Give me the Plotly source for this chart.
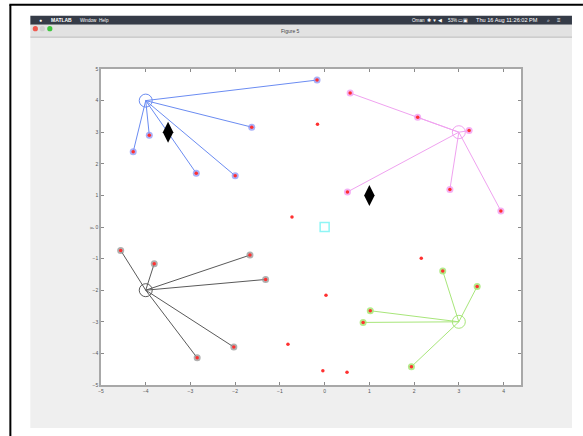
import plotly.graph_objects as go

# ---- data ----
blue_center = (-4.0, 4.0)
blue_x = [-0.17, -4.28, -3.92, -2.87, -2.00, -1.63]
blue_y = [4.65, 2.38, 2.90, 1.70, 1.62, 3.16]

mag_center = (3.0, 3.0)
mag_x = [0.57, 2.08, 3.23, 0.51, 2.80, 3.94]
mag_y = [4.24, 3.47, 3.05, 1.11, 1.19, 0.51]

blk_center = (-4.0, -2.0)
blk_x = [-4.56, -3.81, -1.67, -1.32, -2.03, -2.85]
blk_y = [-0.74, -1.16, -0.89, -1.66, -3.80, -4.14]

grn_center = (3.0, -3.0)
grn_x = [2.64, 3.41, 1.02, 0.86, 1.94]
grn_y = [-1.39, -1.88, -2.65, -3.02, -4.42]

free_x = [-0.16, -0.73, 2.16, 0.03, -0.82, -0.04, 0.50]
free_y = [3.25, 0.32, -0.99, -2.16, -3.71, -4.55, -4.60]

diamond_x = [-3.5, 1.0]
diamond_y = [3.0, 1.0]

origin_x = [0.0]
origin_y = [0.0]

x_ticks = [-5, -4, -3, -2, -1, 0, 1, 2, 3, 4]
y_ticks = [-5, -4, -3, -2, -1, 0, 1, 2, 3, 4, 5]

# ---- page geometry (pixels) ----
W, H = 583, 436
L, R, T, B = 100.7, 521.0, 69.3, 385.0


def px(x):
    return (x - L) / (R - L)


def py(y):
    return (B - y) / (B - T)


fig = go.Figure()

clusters = [
    (blue_center, blue_x, blue_y, "#6b8cf2", "rgba(140,150,245,0.75)"),
    (mag_center, mag_x, mag_y, "#f0a2f0", "rgba(240,150,240,0.75)"),
    (blk_center, blk_x, blk_y, "#5a5a5a", "rgba(150,150,150,0.75)"),
    (grn_center, grn_x, grn_y, "#a8e67a", "rgba(160,230,110,0.8)"),
]

for (cx, cy), xs, ys, line_col, halo in clusters:
    lx, ly = [], []
    for x, y in zip(xs, ys):
        lx += [cx, x, None]
        ly += [cy, y, None]
    fig.add_trace(go.Scatter(x=lx, y=ly, mode="lines",
                             line=dict(color=line_col, width=1),
                             hoverinfo="skip", showlegend=False))
    fig.add_trace(go.Scatter(x=xs, y=ys, mode="markers",
                             marker=dict(symbol="circle", size=7, color=halo,
                                         line=dict(width=0)),
                             showlegend=False))
    fig.add_trace(go.Scatter(x=[cx], y=[cy], mode="markers",
                             marker=dict(symbol="circle-open", size=13,
                                         color=line_col, line=dict(width=1)),
                             showlegend=False))

all_x = blue_x + mag_x + blk_x + grn_x + free_x
all_y = blue_y + mag_y + blk_y + grn_y + free_y
fig.add_trace(go.Scatter(x=all_x, y=all_y, mode="markers",
                         marker=dict(symbol="circle", size=3.5, color="#ff3030"),
                         showlegend=False))

fig.add_trace(go.Scatter(x=diamond_x, y=diamond_y, mode="markers",
                         marker=dict(symbol="diamond-tall", size=15, color="black"),
                         showlegend=False))

fig.add_trace(go.Scatter(x=origin_x, y=origin_y, mode="markers",
                         marker=dict(symbol="square-open", size=9, color="#8ff5f5",
                                     line=dict(width=1.5)),
                         showlegend=False))

shapes = []
# figure window background
shapes.append(dict(type="rect", xref="paper", yref="paper",
                   x0=px(30), x1=px(572), y0=py(428), y1=py(38),
                   fillcolor="#efefef", line=dict(width=0), layer="below"))
# menu bar
shapes.append(dict(type="rect", xref="paper", yref="paper",
                   x0=px(30), x1=px(572), y0=py(25), y1=py(16),
                   fillcolor="#353b47", line=dict(width=0), layer="below"))
# title bar
shapes.append(dict(type="rect", xref="paper", yref="paper",
                   x0=px(30), x1=px(572), y0=py(37.5), y1=py(25),
                   fillcolor="#e2e2e2", line=dict(width=0), layer="below"))
shapes.append(dict(type="line", xref="paper", yref="paper",
                   x0=px(30), x1=px(572), y0=py(37.5), y1=py(37.5),
                   line=dict(color="#b8b8b8", width=1), layer="below"))
# plot area
shapes.append(dict(type="rect", xref="paper", yref="paper",
                   x0=0, x1=1, y0=0, y1=1,
                   fillcolor="white", line=dict(width=0), layer="below"))
# traffic lights
for cxp, col in [(35, "#f05a50"), (42, "#cfcfcf"), (49.5, "#3ec63e")]:
    shapes.append(dict(type="circle", xref="paper", yref="paper",
                       x0=px(cxp - 2.6), x1=px(cxp + 2.6),
                       y0=py(31.6), y1=py(26.4),
                       fillcolor=col, line=dict(width=0), layer="below"))
# outer black frame
shapes.append(dict(type="line", xref="paper", yref="paper",
                   x0=px(9), x1=px(583), y0=py(5), y1=py(5),
                   line=dict(color="black", width=2)))
shapes.append(dict(type="line", xref="paper", yref="paper",
                   x0=px(10), x1=px(10), y0=py(5), y1=py(436),
                   line=dict(color="black", width=2)))


def label(text, x, y, size=5, color="white", anchor="center", angle=0):
    return dict(text=text, xref="paper", yref="paper", x=px(x), y=py(y),
                xanchor=anchor, yanchor="middle", showarrow=False,
                textangle=angle,
                font=dict(size=size, color=color, family="Arial"))


annotations = [
    label("\u25cf", 40, 20.5, size=5),
    label("<b>MATLAB</b>", 49, 20.5, anchor="left"),
    label("Window", 78, 20.5, anchor="left", size=4.6),
    label("Help", 97, 20.5, anchor="left", size=4.6),
    label("Oman", 410, 20.5, anchor="left", size=4.6),
    label("\u2731 \u25bc \u25c0", 425, 20.5, anchor="left", size=4.6),
    label("53% \u25ad", 446, 20.5, anchor="left", size=4.6),
    label("\u25a3", 465, 20.5, size=5),
    label("Thu 16 Aug 11:26:02 PM", 474, 20.5, anchor="left", size=5.6),
    label("\u2315", 549, 20.5, size=5),
    label("\u2261", 559, 20.5, size=6),
    label("Figure 5", 290, 31, color="#444444"),
    label("y", 91, 228, color="#555555", angle=-90),
]

fig.update_layout(
    width=W, height=H,
    margin=dict(l=L, r=W - R, t=T, b=H - B, pad=0),
    paper_bgcolor="white",
    plot_bgcolor="rgba(0,0,0,0)",
    shapes=shapes,
    annotations=annotations,
    showlegend=False,
    xaxis=dict(range=[-5, 4.39], tickvals=x_ticks, ticks="inside", ticklen=3,
               tickcolor="#8a8a8a", showline=True, linecolor="#a8a8a8",
               linewidth=1.5, mirror="ticks", showgrid=False, zeroline=False,
               tickfont=dict(size=5, color="#555555", family="Arial")),
    yaxis=dict(range=[-5, 5], tickvals=y_ticks, ticks="inside", ticklen=3,
               tickcolor="#8a8a8a", showline=True, linecolor="#a8a8a8",
               linewidth=1.5, mirror="ticks", showgrid=False, zeroline=False,
               tickfont=dict(size=5, color="#555555", family="Arial")),
)

fig.write_html("out.html")
